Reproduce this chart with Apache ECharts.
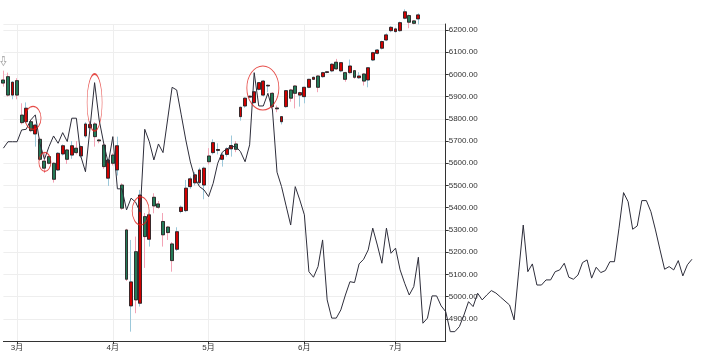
<!DOCTYPE html>
<html>
<head>
    <meta charset="utf-8">
    <script src="https://cdn.jsdelivr.net/npm/echarts@6/dist/echarts.min.js"></script>
    <style>
        html, body { margin: 0; width: 100%; height: 100%; background: #fff; }
        #main { width: 705px; height: 354px; }
    </style>
</head>
<body>
<div id="main"></div>
<script>
    // trading days shown on the category axis
    var dates = [
        '2015-02-25', '2015-02-26', '2015-02-27',
        '2015-03-02', '2015-03-03', '2015-03-04', '2015-03-05', '2015-03-06', '2015-03-09', '2015-03-10',
        '2015-03-11', '2015-03-12', '2015-03-13', '2015-03-16', '2015-03-17', '2015-03-18', '2015-03-19',
        '2015-03-20', '2015-03-23', '2015-03-24', '2015-03-25', '2015-03-26', '2015-03-27', '2015-03-30',
        '2015-04-01', '2015-04-02', '2015-04-03', '2015-04-07', '2015-04-08', '2015-04-09', '2015-04-10',
        '2015-04-13', '2015-04-14', '2015-04-15', '2015-04-16', '2015-04-17', '2015-04-20', '2015-04-21',
        '2015-04-22', '2015-04-23', '2015-04-24', '2015-04-27', '2015-04-28', '2015-04-29', '2015-04-30',
        '2015-05-01', '2015-05-04', '2015-05-05', '2015-05-06', '2015-05-07', '2015-05-08', '2015-05-11',
        '2015-05-12', '2015-05-13', '2015-05-14', '2015-05-15', '2015-05-18', '2015-05-19', '2015-05-20',
        '2015-05-21', '2015-05-22', '2015-05-25', '2015-05-26', '2015-05-27', '2015-05-28', '2015-05-29',
        '2015-06-01', '2015-06-02', '2015-06-03', '2015-06-04', '2015-06-05', '2015-06-08', '2015-06-09',
        '2015-06-10', '2015-06-11', '2015-06-12', '2015-06-15', '2015-06-16', '2015-06-17', '2015-06-18',
        '2015-06-19', '2015-06-22', '2015-06-23', '2015-06-24', '2015-06-25', '2015-06-26',
        '2015-07-01', '2015-07-02', '2015-07-03', '2015-07-06', '2015-07-07', '2015-07-08', '2015-07-09',
        '2015-07-10', '2015-07-13', '2015-07-14', '2015-07-15', '2015-07-16'
    ];

    // [open, close, lowest, highest]
    var candles = [
        [5975, 5961, 5945, 6017], [5990, 5907, 5900, 6008], [5907, 5965, 5888, 5968], [5972, 5907, 5888, 5983],
        [5817, 5783, 5775, 5870], [5787, 5848, 5780, 5874], [5787, 5747, 5740, 5795], [5732, 5772, 5675, 5778],
        [5708, 5618, 5610, 5715], [5610, 5578, 5556, 5646], [5630, 5600, 5595, 5640], [5600, 5528, 5513, 5605],
        [5570, 5645, 5565, 5650], [5642, 5679, 5635, 5685], [5660, 5618, 5597, 5665], [5637, 5679, 5620, 5700],
        [5668, 5648, 5640, 5700], [5633, 5675, 5625, 5680], [5723, 5777, 5715, 5785], [5760, 5775, 5750, 5790],
        [5777, 5720, 5675, 5785], [5705, 5701, 5690, 5710], [5682, 5585, 5575, 5690], [5533, 5615, 5498, 5620],
        [5637, 5600, 5590, 5645], [5570, 5679, 5545, 5720], [5502, 5398, 5390, 5510], [5300, 5078, 5070, 5305],
        [4958, 5066, 4842, 5255], [5202, 4985, 4925, 5270], [4970, 5457, 4955, 5480], [5360, 5270, 5129, 5376],
        [5258, 5368, 5225, 5375], [5447, 5408, 5375, 5465], [5417, 5402, 5395, 5430], [5338, 5278, 5225, 5376],
        [5313, 5288, 5255, 5318], [5237, 5162, 5112, 5245], [5213, 5292, 5205, 5312], [5383, 5402, 5375, 5410],
        [5387, 5488, 5380, 5525], [5495, 5530, 5485, 5540], [5512, 5548, 5500, 5560], [5513, 5570, 5505, 5580],
        [5502, 5578, 5438, 5585], [5633, 5607, 5595, 5668], [5648, 5693, 5640, 5708], [5658, 5662, 5640, 5690],
        [5618, 5637, 5585, 5645], [5640, 5665, 5630, 5672], [5665, 5680, 5630, 5725], [5687, 5663, 5650, 5700],
        [5810, 5852, 5792, 5855], [5858, 5893, 5850, 5897], [5898, 5902, 5895, 5905], [5873, 5922, 5868, 5925],
        [5933, 5963, 5928, 5966], [5907, 5970, 5900, 5975], [5948, 5951, 5920, 5955], [5915, 5855, 5832, 5920],
        [5849, 5845, 5830, 5860], [5787, 5810, 5775, 5812], [5855, 5927, 5850, 5930], [5930, 5893, 5877, 5935],
        [5948, 5915, 5847, 5952], [5907, 5918, 5855, 5922], [5900, 5942, 5870, 5945], [5942, 5978, 5938, 5980],
        [5978, 5987, 5975, 5990], [5993, 5942, 5920, 5997], [5990, 6008, 5985, 6012], [6009, 6012, 6005, 6015],
        [6016, 6046, 6010, 6050], [6055, 6025, 6020, 6070], [6016, 6053, 6010, 6056], [6008, 5978, 5967, 6012],
        [6008, 6038, 6003, 6067], [6017, 5987, 5980, 6020], [5985, 5993, 5980, 6010], [6002, 5970, 5950, 6005],
        [5975, 6030, 5942, 6033], [6065, 6098, 6060, 6102], [6095, 6110, 6090, 6114], [6118, 6148, 6112, 6152],
        [6155, 6178, 6150, 6185], [6197, 6212, 6190, 6218], [6193, 6205, 6188, 6210], [6197, 6233, 6192, 6238],
        [6253, 6282, 6248, 6293], [6265, 6235, 6208, 6270], [6241, 6230, 6225, 6245], [6250, 6268, 6225, 6275]
    ];

    // black comparison line, one value per trading day (runs past the last date)
    var lineValues = [
        5668, 5697, 5697, 5697, 5750, 5753, 5795, 5818, 5690, 5618,
        5675, 5723, 5690, 5738, 5698, 5803, 5803, 5630, 5562, 5760,
        5963, 5795, 5690, 5600, 5720, 5485, 5485, 5390, 5443, 5425,
        5380, 5753, 5697, 5615, 5687, 5648, 5795, 5942, 5930, 5818,
        5705, 5606, 5534, 5495, 5480, 5450, 5510, 5600, 5650, 5665,
        5675, 5675, 5652, 5607, 5683, 6008, 5858, 5858, 5915, 5840,
        5560, 5495, 5408, 5322, 5495, 5435, 5368, 5112, 5087, 5135,
        5255, 4985, 4903, 4903, 4940, 5007, 5067, 5063, 5147, 5168,
        5210, 5308, 5232, 5150, 5308, 5195, 5218, 5120, 5060, 5007,
        5045, 5177, 4880, 4903, 5003, 5003, 4958, 4932, 4842, 4842,
        4865, 4917, 4977, 4955, 5015, 4985, 5007, 5027, 5016, 4998,
        4980, 4962, 4895, 5111, 5322, 5112, 5147, 5052, 5052, 5075,
        5075, 5112, 5120, 5150, 5087, 5078, 5097, 5153, 5165, 5083,
        5132, 5108, 5117, 5157, 5157, 5308, 5468, 5427, 5303, 5318,
        5432, 5432, 5382, 5300, 5210, 5123, 5135, 5120, 5162, 5093,
        5143, 5168
    ];

    // red ring annotations: [day position, price]
    var markerPoints = [[6.5, 5804], [9.1, 5606], [20.0, 5874], [30.1, 5386], [56.9, 5939]];
    var arrowPoint = [[0, 6060]];

    var markerSizes = [[16, 23], [12, 19], [15, 57], [17, 28], [32, 44]];

    var bodies = candles.map(function (d) {
        return [d[0], d[1], Math.min(d[0], d[1]), Math.max(d[0], d[1])];
    });
    var linePoints = lineValues.map(function (v, i) { return [i, v]; });

    function isMonthStart(i, v) {
        return i > 0 && v.slice(5, 7) !== dates[i - 1].slice(5, 7);
    }

    var yMin = 4800, yMax = 6227;
    var dayPx = 4.56;

    var chart = echarts.init(document.getElementById('main'));
    var option = {
        animation: false,
        textStyle: { fontFamily: 'Liberation Sans, Noto Sans CJK SC, sans-serif' },
        grid: [
            { left: 3.4, right: 259.3, top: 24, bottom: 13 },
            // the comparison line keeps the same day spacing but runs on past the price axis
            { left: 3.4, right: 705 - 3.4 - dayPx * (lineValues.length - 1), top: 24, bottom: 13 }
        ],
        xAxis: [{
            type: 'category',
            data: dates,
            boundaryGap: false,
            max: dates.length - 1,
            axisLine: { lineStyle: { color: '#333' } },
            axisTick: { length: 3, interval: isMonthStart, lineStyle: { color: '#333' } },
            axisLabel: {
                interval: isMonthStart,
                fontSize: 8,
                color: '#333',
                margin: 3,
                formatter: function (v) { return parseInt(v.slice(5, 7), 10) + '月'; }
            },
            splitLine: { show: true, interval: isMonthStart, lineStyle: { color: '#eeeeee' } }
        }, {
            type: 'value',
            min: 0,
            max: dates.length - 1,
            show: false
        }, {
            type: 'value',
            gridIndex: 1,
            min: 0,
            max: lineValues.length - 1,
            show: false
        }],
        yAxis: [{
            type: 'value',
            position: 'right',
            min: yMin,
            max: yMax,
            interval: 100,
            axisLine: { show: true, onZero: false, lineStyle: { color: '#333' } },
            axisTick: { show: true, length: 3, lineStyle: { color: '#333' } },
            axisLabel: {
                fontSize: 8,
                color: '#333',
                margin: 3,
                showMinLabel: false,
                showMaxLabel: false,
                formatter: function (v) { return v.toFixed(2); }
            },
            splitLine: { lineStyle: { color: '#eeeeee' } }
        }, {
            type: 'value',
            gridIndex: 1,
            min: yMin,
            max: yMax,
            show: false
        }],
        series: [
            {
                type: 'candlestick',
                data: candles,
                barWidth: 3.4,
                clip: false,
                itemStyle: {
                    color: '#d10000',
                    color0: '#237a57',
                    borderColor: '#9cc8da',
                    borderColor0: '#f3a3b5',
                    borderWidth: 1
                }
            },
            {
                type: 'candlestick',
                data: bodies,
                barWidth: 3.4,
                clip: false,
                itemStyle: {
                    color: '#d10000',
                    color0: '#237a57',
                    borderColor: '#1a1a1a',
                    borderColor0: '#1a1a1a',
                    borderWidth: 0.8
                }
            },
            {
                type: 'line',
                xAxisIndex: 2,
                yAxisIndex: 1,
                data: linePoints,
                symbol: 'none',
                z: 3,
                lineStyle: { color: '#2d2d3a', width: 1 }
            },
            {
                type: 'scatter',
                xAxisIndex: 1,
                data: markerPoints,
                symbol: 'circle',
                symbolSize: function (val, params) { return markerSizes[params.dataIndex]; },
                z: 4,
                itemStyle: { color: 'rgba(0,0,0,0)', borderColor: '#e0201b', borderWidth: 1 }
            },
            {
                type: 'scatter',
                xAxisIndex: 1,
                data: arrowPoint,
                symbol: 'path://M3,0 L7,0 L7,7 L10,7 L5,13 L0,7 L3,7 Z',
                symbolSize: [5, 9],
                clip: false,
                z: 4,
                itemStyle: { color: '#fff', borderColor: '#999', borderWidth: 0.8 }
            }
        ]
    };
    chart.setOption(option);
</script>
</body>
</html>
